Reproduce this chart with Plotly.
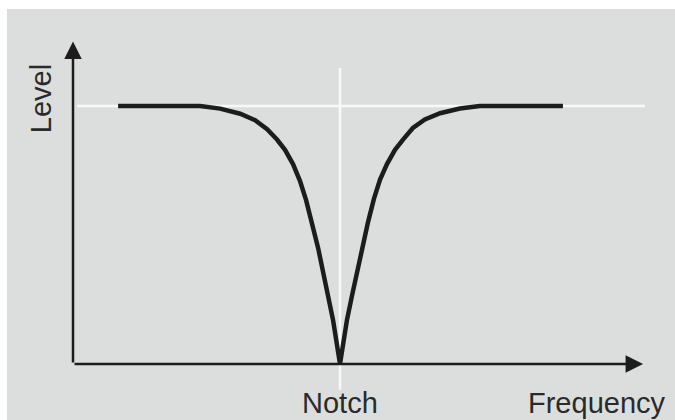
import plotly.graph_objects as go

# Notch filter response: frequency (arbitrary units, notch at 10) vs. level (1 = unity)
freq = [1.69, 4.76, 5.51, 6.26, 6.82, 7.27, 7.64, 7.94, 8.24, 8.50, 8.73, 8.95, 9.18, 9.36, 9.55, 9.74,
        10.0,
        10.26, 10.45, 10.64, 10.82, 11.05, 11.27, 11.50, 11.76, 12.06, 12.36, 12.73, 13.18, 13.75,
        14.49, 15.24, 18.35]
level = [1.0, 1.0, 0.99, 0.97, 0.945, 0.91, 0.87, 0.83, 0.775, 0.71, 0.635, 0.55, 0.45, 0.36, 0.265, 0.17,
         0.0,
         0.17, 0.265, 0.36, 0.45, 0.55, 0.64, 0.715, 0.775, 0.83, 0.87, 0.915, 0.948, 0.972,
         0.99, 1.0, 1.0]

notch_freq = 10.0
unity_level = 1.0
x_label = "Frequency"
y_label = "Level"
notch_label = "Notch"

INK = "#1c1c1c"
TEXT = "#2a2a2a"
FONT = "Liberation Sans, Arial, sans-serif"

fig = go.Figure()

# faint white guide lines at unity level and at the notch frequency
fig.add_trace(go.Scatter(x=[0.15, 21.42], y=[unity_level, unity_level], mode="lines",
                         line=dict(color="#f7f8f8", width=2.5), hoverinfo="skip"))
fig.add_trace(go.Scatter(x=[notch_freq, notch_freq], y=[1.147, -0.10], mode="lines",
                         line=dict(color="#f7f8f8", width=2.5), hoverinfo="skip"))

# the response curve
fig.add_trace(go.Scatter(x=freq, y=level, mode="lines",
                         line=dict(color=INK, width=4.5, shape="linear"),
                         hoverinfo="skip"))

annotations = [
    # axes drawn as arrows
    dict(x=0, y=1.25, ax=0, ay=0, xref="x", yref="y", axref="x", ayref="y",
         showarrow=True, arrowhead=2, arrowsize=1.4, arrowwidth=2.5, arrowcolor=INK, text=""),
    dict(x=21.35, y=0, ax=0, ay=0, xref="x", yref="y", axref="x", ayref="y",
         showarrow=True, arrowhead=2, arrowsize=1.4, arrowwidth=2.5, arrowcolor=INK, text=""),
    dict(x=-1.2, y=1.03, xref="x", yref="y", text=y_label, showarrow=False, textangle=-90,
         font=dict(family=FONT, size=29, color=TEXT)),
    dict(x=notch_freq, y=-0.15, xref="x", yref="y", text=notch_label, showarrow=False,
         font=dict(family=FONT, size=29, color=TEXT)),
    dict(x=19.62, y=-0.15, xref="x", yref="y", text=x_label, showarrow=False,
         font=dict(family=FONT, size=29, color=TEXT)),
]

fig.update_layout(
    width=675, height=420,
    margin=dict(l=7, r=0, t=9, b=0),
    paper_bgcolor="white",
    plot_bgcolor="#dcdede",
    showlegend=False,
    annotations=annotations,
    xaxis=dict(range=[-2.472, 22.547], visible=False, fixedrange=True),
    yaxis=dict(range=[-0.217, 1.376], visible=False, fixedrange=True),
)

fig.write_html("out.html")
